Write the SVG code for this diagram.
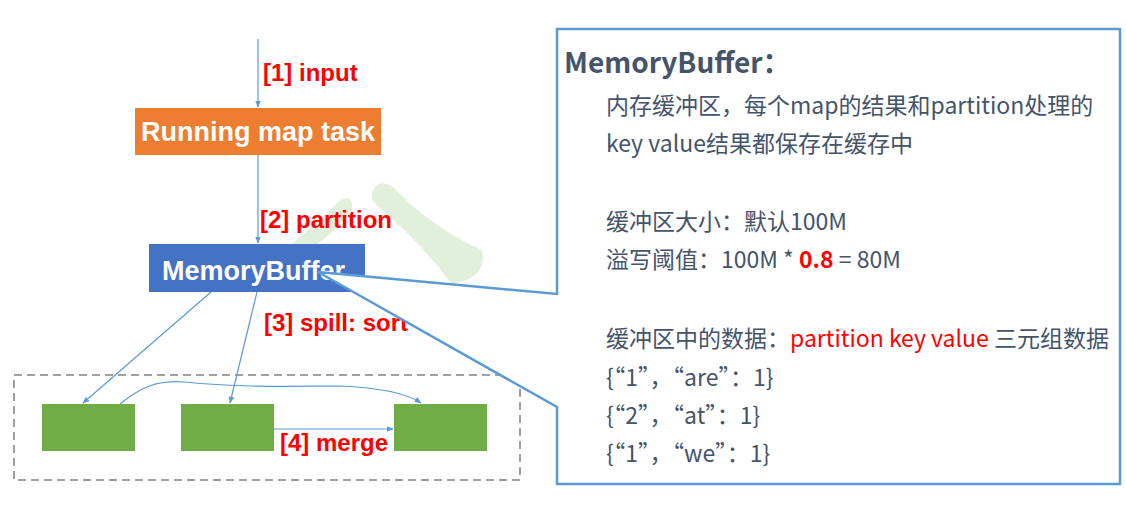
<svg xmlns="http://www.w3.org/2000/svg" width="1126" height="517" viewBox="0 0 1126 517">
<style>
.lbl{font-family:"Liberation Sans",Arial,sans-serif;font-weight:bold;fill:#FF0000;font-size:24px}
.ntxt{font-family:"Liberation Sans",Arial,sans-serif;font-weight:bold;fill:#FFFFFF;font-size:27px}
.conn{stroke:#5B9BD5;stroke-width:1.2;fill:none}
.body{font-family:"Noto Sans CJK SC","Noto Sans",sans-serif;fill:#44546A;font-size:23px}
.red{fill:#FF0000}
.green{fill:#70AD47}
</style>
<defs>
<marker id="arr" viewBox="0 0 10 10" refX="9" refY="5" markerWidth="7" markerHeight="7" orient="auto" markerUnits="userSpaceOnUse">
<path d="M0,1 L10,5 L0,9 z" fill="#5B9BD5"/>
</marker>
</defs>
<rect width="1126" height="517" fill="#FFFFFF"/>
<g id="watermark" fill="#E2EFDA">
<path d="M340,200 Q354,194 352,210 Q330,238 305,252 L284,250 Q315,226 340,200 Z"/>
<path d="M372,192 Q378,178 393,187 Q432,228 482,250 Q488,278 452,284 Q420,242 380,208 Q370,200 372,192 Z"/>
</g>
<g id="container">
<rect x="14" y="375" width="506" height="105" fill="none" stroke="#A0A0A0" stroke-width="2" stroke-dasharray="8 5"/>
</g>
<g id="connectors">
<line class="conn" x1="258" y1="39" x2="258" y2="107" marker-end="url(#arr)"/>
<line class="conn" x1="258" y1="155" x2="258" y2="243" marker-end="url(#arr)"/>
<line class="conn" x1="211" y1="292" x2="83" y2="403" marker-end="url(#arr)"/>
<line class="conn" x1="257" y1="292" x2="230" y2="403" marker-end="url(#arr)"/>
<path class="conn" d="M120,404 C140,388 155,380 185,382 C240,388 300,386 340,386 C385,388 408,394 421,403" marker-end="url(#arr)"/>
<line class="conn" x1="274" y1="429" x2="393" y2="429" marker-end="url(#arr)"/>
</g>
<g id="labels">
<text class="lbl" x="263" y="81">[1] input</text>
<text class="lbl" x="260" y="228">[2] partition</text>
<text class="lbl" x="264" y="331">[3] spill: sort</text>
<text class="lbl" x="280" y="451">[4] merge</text>
</g>
<g id="node-running">
<rect x="135" y="108" width="246" height="47" fill="#ED7D31"/>
<text class="ntxt" x="258" y="141" text-anchor="middle">Running map task</text>
</g>
<g id="node-memorybuffer">
<rect x="149" y="244" width="216" height="48" fill="#4472C4"/>
<text class="ntxt" x="162" y="280" font-size="28">MemoryBuffer</text>
</g>
<g id="spill1"><rect class="green" x="42" y="404" width="93" height="47"/></g>
<g id="spill2"><rect class="green" x="181" y="404" width="93" height="47"/></g>
<g id="spill3"><rect class="green" x="394" y="404" width="93" height="47"/></g>
<g id="callout">
<path d="M557,29 L1120,29 L1120,484 L557,484 L557,407 L318,272 L557,294 Z" fill="#FFFFFF" stroke="#5B9BD5" stroke-width="2.5" stroke-linejoin="miter"/>
<text x="564" y="73" font-family="'Noto Sans CJK SC','Noto Sans',sans-serif" font-weight="bold" font-size="28" fill="#44546A">MemoryBuffer：</text>
<text class="body" x="606" y="114">内存缓冲区，每个map的结果和partition处理的</text>
<text class="body" x="606" y="152">key value结果都保存在缓存中</text>
<text class="body" x="606" y="230">缓冲区大小：默认100M</text>
<text class="body" x="606" y="268">溢写阈值：100M * <tspan class="red" font-weight="bold">0.8</tspan> = 80M</text>
<text class="body" x="606" y="347">缓冲区中的数据：<tspan class="red">partition key value</tspan> 三元组数据</text>
<text class="body" x="606" y="386">{“1”，“are”：1}</text>
<text class="body" x="606" y="424">{“2”，“at”：1}</text>
<text class="body" x="606" y="462">{“1”，“we”：1}</text>
</g>
</svg>
